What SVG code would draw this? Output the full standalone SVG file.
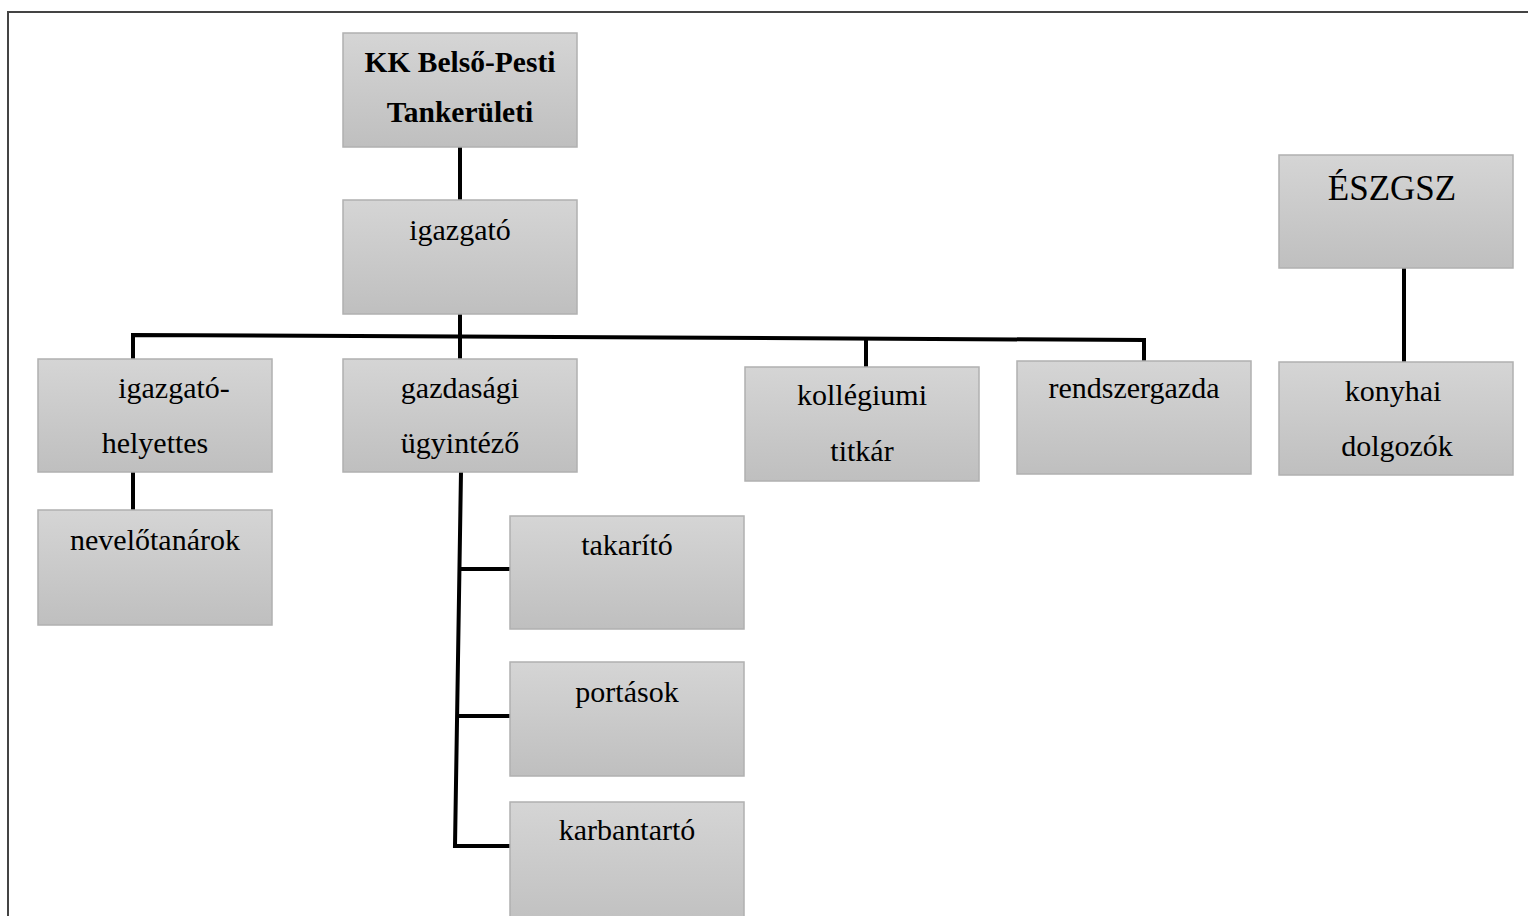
<svg xmlns="http://www.w3.org/2000/svg" width="1528" height="916" viewBox="0 0 1528 916">
<defs>
<linearGradient id="g" x1="0" y1="0" x2="0" y2="1">
<stop offset="0" stop-color="#d5d5d5"/>
<stop offset="1" stop-color="#bfbfbf"/>
</linearGradient>
<style>
.box{fill:url(#g);stroke:#b0b0b0;stroke-width:1.5}
.t{font-family:"Liberation Serif","Times New Roman",serif;font-size:30px;fill:#000;text-anchor:middle}
.b{font-weight:bold;font-size:29.5px}
.c{fill:none;stroke:#000;stroke-width:4;stroke-linejoin:miter}
</style>
</defs>
<rect width="1528" height="916" fill="#fff"/>
<path d="M8,930 V12 H1540" fill="none" stroke="#444" stroke-width="2"/>
<g id="connectors">
<path class="c" d="M460,147 V200"/>
<path class="c" d="M460,314 V359"/>
<path class="c" d="M133,359 V335 L1144,340 V361"/>
<path class="c" d="M866,338 V367"/>
<path class="c" d="M133,472 V510"/>
<path class="c" d="M461,472 L455,846 H512"/>
<path class="c" d="M459,569 H512"/>
<path class="c" d="M457,716 H512"/>
<path class="c" d="M1404,268 V362"/>
</g>
<g id="kk"><rect class="box" x="343" y="33" width="234" height="114"/><text class="t b" x="460" y="72">KK Belső-Pesti</text><text class="t b" x="460" y="122">Tankerületi</text></g>
<g id="igazgato"><rect class="box" x="343" y="200" width="234" height="114"/><text class="t" x="460" y="240">igazgató</text></g>
<g id="helyettes"><rect class="box" x="38" y="359" width="234" height="113"/><text class="t" x="174" y="398">igazgató-</text><text class="t" x="155" y="453">helyettes</text></g>
<g id="gazdasagi"><rect class="box" x="343" y="359" width="234" height="113"/><text class="t" x="460" y="398">gazdasági</text><text class="t" x="460" y="453">ügyintéző</text></g>
<g id="kollegiumi"><rect class="box" x="745" y="367" width="234" height="114"/><text class="t" x="862" y="405">kollégiumi</text><text class="t" x="862" y="461">titkár</text></g>
<g id="rendszergazda"><rect class="box" x="1017" y="361" width="234" height="113"/><text class="t" x="1134" y="398">rendszergazda</text></g>
<g id="eszgsz"><rect class="box" x="1279" y="155" width="234" height="113"/><text class="t" x="1392" y="200" style="font-size:35px">ÉSZGSZ</text></g>
<g id="konyhai"><rect class="box" x="1279" y="362" width="234" height="113"/><text class="t" x="1393" y="401">konyhai</text><text class="t" x="1397" y="456">dolgozók</text></g>
<g id="nevelotanarok"><rect class="box" x="38" y="510" width="234" height="115"/><text class="t" x="155" y="550">nevelőtanárok</text></g>
<g id="takarito"><rect class="box" x="510" y="516" width="234" height="113"/><text class="t" x="627" y="555">takarító</text></g>
<g id="portasok"><rect class="box" x="510" y="662" width="234" height="114"/><text class="t" x="627" y="702">portások</text></g>
<g id="karbantarto"><rect class="box" x="510" y="802" width="234" height="130"/><text class="t" x="627" y="840">karbantartó</text></g>
</svg>
